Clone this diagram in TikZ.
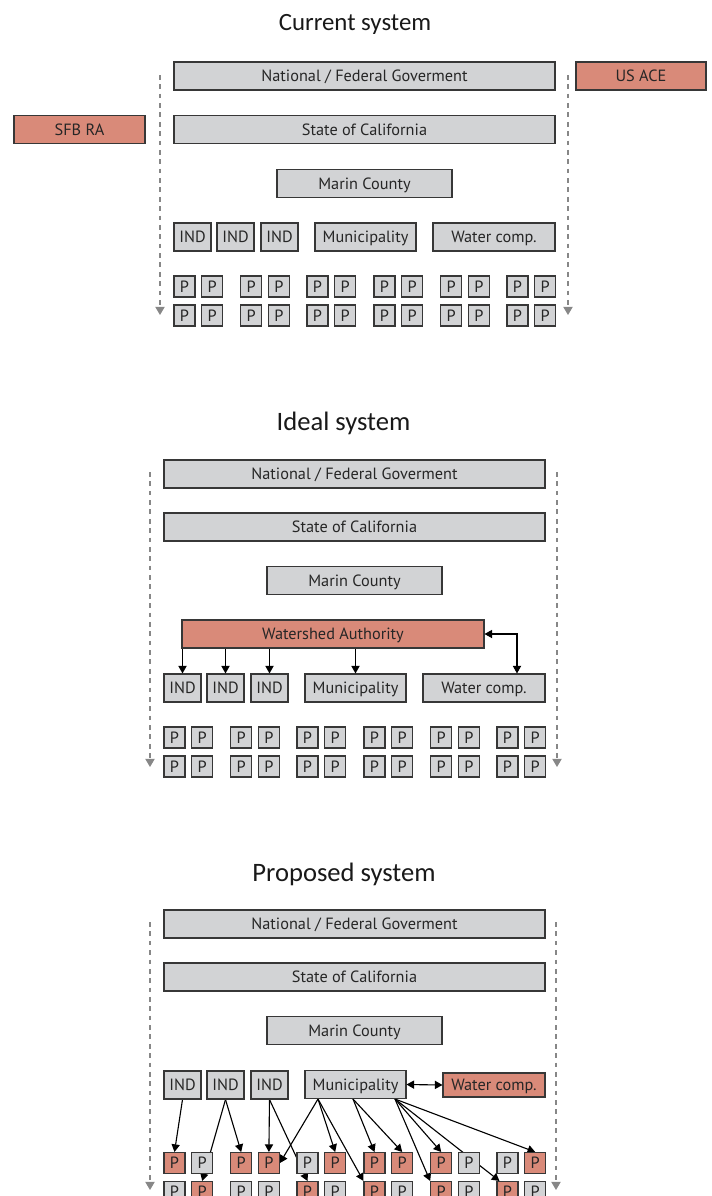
\documentclass[tikz,border=0pt]{standalone}
\usepackage{fontspec}
\setmainfont{PT Sans}
\newfontfamily\headfont{Carlito}
\usepackage{tikz}
\usetikzlibrary{arrows.meta,backgrounds,calc}

\definecolor{boxgray}{RGB}{210,211,213}
\definecolor{boxline}{RGB}{55,55,55}
\definecolor{boxred}{RGB}{217,138,121}
\definecolor{flowgray}{RGB}{135,135,135}

\tikzset{
  level/.style={draw=boxline, fill=boxgray, line width=0.9pt, inner sep=0pt,
    minimum height=0.84cm, text=black!85, text height=9.6pt, text depth=0pt,
    font=\fontsize{13.9}{16}\selectfont},
  redlevel/.style={level, fill=boxred},
  pbox/.style={level, minimum width=0.63cm, minimum height=0.63cm},
  title/.style={text=black!90, font=\headfont\fontsize{22.7}{26}\selectfont},
  flow/.style={flowgray, line width=0.9pt, dash pattern=on 4pt off 4pt,
    -{Triangle[length=7pt,width=8pt]}},
  link/.style={line width=0.95pt, -{Triangle[length=6.5pt,width=7pt]}},
  dlink/.style={line width=0.95pt,
    {Triangle[length=6.5pt,width=7pt]}-{Triangle[length=6.5pt,width=7pt]}}
}

\begin{document}
\begin{tikzpicture}[x=0.03cm, y=-0.03cm]
\useasboundingbox (0,0) rectangle (712,1196);
\clip (0,0) rectangle (712,1196);

% current system
\node[title, font=\headfont\fontsize{21.2}{25}\selectfont] (t1) at (355,24) {Current system};
\node[level, minimum width=11.43cm] (nat1) at (364.5,76) {National / Federal Goverment};
\node[redlevel, minimum width=3.9cm] (usace) at (641,76) {US ACE};
\node[redlevel, minimum width=3.93cm] (sfbra) at (79.5,129.5) {SFB RA};
\node[level, minimum width=11.43cm] (state1) at (364.5,129.5) {State of California};
\node[level, minimum width=5.25cm] (marin1) at (364.5,183.5) {Marin County};
\node[level, minimum width=1.11cm] (ind1a) at (192.5,237) {IND};
\node[level, minimum width=1.11cm] (ind1b) at (235.5,237) {IND};
\node[level, minimum width=1.11cm] (ind1c) at (279.5,237) {IND};
\node[level, minimum width=3.03cm] (muni1) at (365.5,237) {Municipality};
\node[level, minimum width=3.66cm] (water1) at (494,237) {Water comp.};
\foreach \x [count=\i] in {184.5,212.2,251.2,278.9,317.5,345.2,384.5,412.2,451.2,478.9,517.5,545.2}
  \foreach \y [count=\j] in {286.5,315.5}
    \node[pbox] (p1-\j-\i) at (\x,\y) {P};
\coordinate (l1s) at (160,75);
\coordinate (l1e) at (160,315);
\coordinate (r1s) at (568,75);
\coordinate (r1e) at (568,315);
\draw[flow] (l1s) -- (l1e);
\draw[flow] (r1s) -- (r1e);

% ideal system
\node[title] (t2) at (343.5,423) {Ideal system};
\node[level, minimum width=11.43cm] (nat2) at (354.5,474) {National / Federal Goverment};
\node[level, minimum width=11.43cm] (state2) at (354.5,527) {State of California};
\node[level, minimum width=5.25cm] (marin2) at (354.5,580.5) {Marin County};
\node[redlevel, minimum width=9.06cm] (wa) at (333,634) {Watershed Authority};
\node[level, minimum width=1.11cm] (ind2a) at (182.5,688) {IND};
\node[level, minimum width=1.11cm] (ind2b) at (225.5,688) {IND};
\node[level, minimum width=1.11cm] (ind2c) at (269.5,688) {IND};
\node[level, minimum width=3.03cm] (muni2) at (355.5,688) {Municipality};
\node[level, minimum width=3.66cm] (water2) at (484,688) {Water comp.};
\foreach \x [count=\i] in {174.5,202.2,241.2,268.9,307.5,335.2,374.5,402.2,441.2,468.9,507.5,535.2}
  \foreach \y [count=\j] in {737.5,766.5}
    \node[pbox] (p2-\j-\i) at (\x,\y) {P};
\draw[link] (ind2a.north |- wa.south) -- (ind2a.north);
\draw[link] (ind2b.north |- wa.south) -- (ind2b.north);
\draw[link] (ind2c.north |- wa.south) -- (ind2c.north);
\draw[link] (muni2.north |- wa.south) -- (muni2.north);
\draw[dlink] (wa.east) -| ($(water2.north)+(33,0)$);
\coordinate (l2s) at (150,472);
\coordinate (l2e) at (150,767);
\coordinate (r2s) at (557,472);
\coordinate (r2e) at (557,767);
\draw[flow] (l2s) -- (l2e);
\draw[flow] (r2s) -- (r2e);

% proposed system
\node[title] (t3) at (344,874) {Proposed system};
\node[level, minimum width=11.43cm] (nat3) at (354.5,924) {National / Federal Goverment};
\node[level, minimum width=11.43cm] (state3) at (354.5,977) {State of California};
\node[level, minimum width=5.25cm] (marin3) at (354.5,1030.5) {Marin County};
\node[level, minimum width=1.11cm] (ind3a) at (182.5,1085) {IND};
\node[level, minimum width=1.11cm] (ind3b) at (225.5,1085) {IND};
\node[level, minimum width=1.11cm] (ind3c) at (269.5,1085) {IND};
\node[level, minimum width=3.03cm] (muni3) at (355.5,1084.5) {Municipality};
\node[redlevel, minimum width=3.06cm, minimum height=0.72cm] (water3) at (494,1085) {Water comp.};
\foreach \x/\ca/\cb [count=\i] in {174.5/boxred/boxgray, 202.2/boxgray/boxred,
    241.2/boxred/boxgray, 268.9/boxred/boxgray, 307.5/boxgray/boxred,
    335.2/boxred/boxgray, 374.5/boxred/boxred, 402.2/boxred/boxgray,
    441.2/boxred/boxred, 468.9/boxgray/boxgray, 507.5/boxgray/boxred,
    535.2/boxred/boxgray} {
  \node[pbox, fill=\ca] (p3-1-\i) at (\x,1163) {P};
  \node[pbox, fill=\cb] (p3-2-\i) at (\x,1192) {P};
}
\coordinate (ma) at ($(muni3.south)+(-37.5,0)$);
\coordinate (mb) at ($(muni3.south)+(-2.5,0)$);
\coordinate (mc) at ($(muni3.south)+(39.5,0)$);
\draw[dlink] (muni3.east) -- (water3.west);
\begin{scope}[on background layer]
\draw[link] (ind3a.south) -- (p3-1-1.north);
\draw[link] (ind3b.south) -- (p3-2-2.north);
\draw[link] (ind3b.south) -- (p3-1-3.north);
\draw[link] (ind3c.south) -- (p3-1-4.north);
\draw[link] (ind3c.south) -- (p3-2-5.north);
\draw[link] (ma) -- (p3-1-4.east);
\draw[link] (ma) -- (p3-1-6.north);
\draw[link] (ma) -- (p3-2-7.north west);
\draw[link] (mb) -- (p3-1-7.north);
\draw[link] (mb) -- (p3-1-8.north);
\draw[link] (mc) -- (p3-2-9.north west);
\draw[link] (mc) -- (p3-1-9.north);
\draw[link] (mc) -- ($(p3-2-11.north west)+(3,0)$);
\draw[link] (mc) -- (p3-1-12.north);
\end{scope}
\coordinate (l3s) at (150,922);
\coordinate (l3e) at (150,1190);
\coordinate (r3s) at (556,922);
\coordinate (r3e) at (556,1190);
\draw[flow] (l3s) -- (l3e);
\draw[flow] (r3s) -- (r3e);
\end{tikzpicture}
\end{document}
